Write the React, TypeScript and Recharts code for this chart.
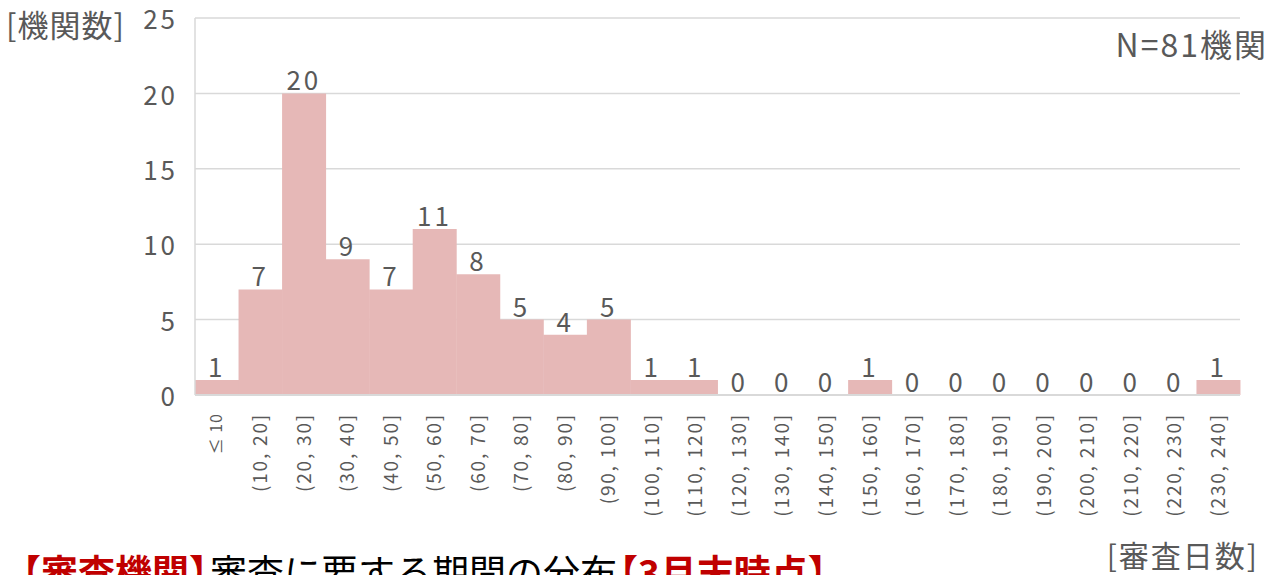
import { ComposedChart, Bar, Line, XAxis, YAxis, CartesianGrid, LabelList } from 'recharts';

const categories = [
  '≤ 10', '(10, 20]', '(20, 30]', '(30, 40]', '(40, 50]', '(50, 60]', '(60, 70]', '(70, 80]',
  '(80, 90]', '(90, 100]', '(100, 110]', '(110, 120]', '(120, 130]', '(130, 140]', '(140, 150]',
  '(150, 160]', '(160, 170]', '(170, 180]', '(180, 190]', '(190, 200]', '(200, 210]',
  '(210, 220]', '(220, 230]', '(230, 240]',
];
const counts = [1, 7, 20, 9, 7, 11, 8, 5, 4, 5, 1, 1, 0, 0, 0, 1, 0, 0, 0, 0, 0, 0, 0, 1];
const yTicks = [0, 5, 10, 15, 20, 25];

const data = categories.map((c, i) => ({ range: c, count: counts[i] }));

const FONT = '"Noto Sans CJK JP", "Noto Sans", sans-serif';
const GRAY = '#595959';
const GRID = '#d9d9d9';

const XTick = (props: any) => {
  const { x, y, payload } = props;
  const small = payload.value === '≤ 10';
  return (
    <g transform={`translate(${x},${y + 10}) rotate(-90)`}>
      <text x={0} y={0} dy="0.35em" textAnchor="end" fill={GRAY} fontSize={small ? 16 : 19}
        letterSpacing={small ? 1 : 1.8} fontFamily={FONT}>
        {payload.value}
      </text>
    </g>
  );
};

export default function App() {
  return (
    <div style={{ position: 'absolute', left: 0, top: 0, width: 1271, height: 575, overflow: 'hidden', background: '#fff', fontFamily: FONT }}>
      <ComposedChart width={1271} height={575} data={data} barCategoryGap={0}
        margin={{ top: 18, right: 31, left: 0, bottom: 50 }}>
        <CartesianGrid vertical={false} stroke={GRID} strokeWidth={1.5} />
        <XAxis dataKey="range" interval={0} height={130} tickLine={false}
          axisLine={{ stroke: GRID, strokeWidth: 2 }} tick={<XTick />} />
        <YAxis domain={[0, 25]} ticks={yTicks} width={195} tickLine={false} tickMargin={11}
          axisLine={{ stroke: GRID, strokeWidth: 1.5 }}
          tick={{ fill: GRAY, fontSize: 26, letterSpacing: 3, fontFamily: FONT, dy: 2 }} />
        <Bar dataKey="count" fill="#e6b8b7" isAnimationActive={false} />
        <Line dataKey="count" stroke="none" dot={false} activeDot={false} isAnimationActive={false}>
          <LabelList dataKey="count" position="top" offset={3} fill={GRAY} fontSize={26}
            letterSpacing={3} fontFamily={FONT} />
        </Line>
      </ComposedChart>
      <div style={{ position: 'absolute', left: 6, top: 5, fontSize: 31, color: GRAY, lineHeight: 1.2, letterSpacing: 1 }}>[機関数]</div>
      <div style={{ position: 'absolute', right: 3, top: 24, fontSize: 32, color: GRAY, lineHeight: 1.2, letterSpacing: 2 }}>N=81機関</div>
      <div style={{ position: 'absolute', right: 12, top: 536, fontSize: 30, color: GRAY, lineHeight: 1.2, letterSpacing: 2 }}>[審査日数]</div>
      <div style={{ position: 'absolute', left: 4, top: 549, fontSize: 37, lineHeight: 1.2, whiteSpace: 'nowrap' }}>
        <span style={{ color: '#c00000', fontWeight: 700 }}>【審査機関】</span>
        <span style={{ color: '#000', marginLeft: -16 }}>審査に要する期間の分布</span>
        <span style={{ color: '#c00000', fontWeight: 700, marginLeft: -16 }}>【3月末時点】</span>
      </div>
    </div>
  );
}
